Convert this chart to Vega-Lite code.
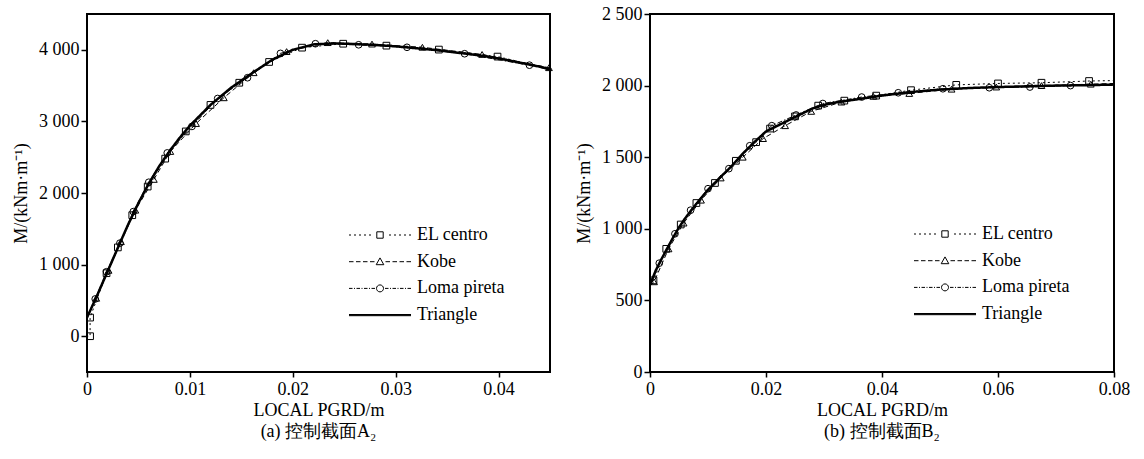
{
  "$schema": "https://vega.github.io/schema/vega-lite/v6.json",
  "padding": {"left": 11, "top": 4, "right": 5, "bottom": 2},
  "background": "white",
  "spacing": 18,
  "resolve": {"scale": {"shape": "independent"}, "legend": {"shape": "independent"}},
  "config": {
    "font": "Liberation Serif",
    "view": {"stroke": "black", "strokeWidth": 2},
    "axis": {"grid": false, "domain": false, "tickColor": "black", "tickWidth": 1.5, "labelColor": "black", "titleColor": "black", "labelFontSize": 18, "titleFontSize": 18, "titleFontWeight": "normal", "labelFont": "Liberation Serif", "titleFont": "Liberation Serif", "labelFlush": false, "labelOverlap": false},
    "axisX": {"tickSize": 5, "labelPadding": 3, "titlePadding": 3},
    "axisY": {"tickSize": 6, "labelPadding": 2, "titlePadding": 8},
    "legend": {"labelFontSize": 18, "labelFont": "Liberation Serif", "labelColor": "black", "symbolStrokeWidth": 1, "symbolStrokeColor": "black", "symbolFillColor": "transparent", "symbolSize": 64, "labelOffset": 28, "rowPadding": 8.7},
    "title": {"font": "Liberation Serif", "fontSize": 18, "fontWeight": "normal", "color": "black", "offset": 4}
  },
  "datasets": {
    "a": [
      {"series": "Triangle", "x": 0, "y": 260},
      {"series": "Triangle", "x": 0.001, "y": 575},
      {"series": "Triangle", "x": 0.002, "y": 905},
      {"series": "Triangle", "x": 0.003, "y": 1235},
      {"series": "Triangle", "x": 0.004, "y": 1560},
      {"series": "Triangle", "x": 0.005, "y": 1860},
      {"series": "Triangle", "x": 0.006, "y": 2130},
      {"series": "Triangle", "x": 0.007, "y": 2370},
      {"series": "Triangle", "x": 0.008, "y": 2580},
      {"series": "Triangle", "x": 0.009, "y": 2770},
      {"series": "Triangle", "x": 0.010, "y": 2940},
      {"series": "Triangle", "x": 0.012, "y": 3230},
      {"series": "Triangle", "x": 0.014, "y": 3470},
      {"series": "Triangle", "x": 0.016, "y": 3670},
      {"series": "Triangle", "x": 0.018, "y": 3860},
      {"series": "Triangle", "x": 0.020, "y": 4000},
      {"series": "Triangle", "x": 0.022, "y": 4075},
      {"series": "Triangle", "x": 0.024, "y": 4090},
      {"series": "Triangle", "x": 0.026, "y": 4080},
      {"series": "Triangle", "x": 0.028, "y": 4068},
      {"series": "Triangle", "x": 0.030, "y": 4048},
      {"series": "Triangle", "x": 0.032, "y": 4022},
      {"series": "Triangle", "x": 0.034, "y": 3995},
      {"series": "Triangle", "x": 0.036, "y": 3960},
      {"series": "Triangle", "x": 0.038, "y": 3925},
      {"series": "Triangle", "x": 0.040, "y": 3880},
      {"series": "Triangle", "x": 0.042, "y": 3822},
      {"series": "Triangle", "x": 0.044, "y": 3765},
      {"series": "Triangle", "x": 0.045, "y": 3728},
      {"series": "EL centro", "x": 0, "y": -500},
      {"series": "EL centro", "x": 0, "y": 0},
      {"series": "EL centro", "x": 0.0003, "y": 0},
      {"series": "EL centro", "x": 0.0003, "y": 260},
      {"series": "EL centro", "x": 0.0019, "y": 880},
      {"series": "EL centro", "x": 0.0030, "y": 1240},
      {"series": "EL centro", "x": 0.0044, "y": 1690},
      {"series": "EL centro", "x": 0.0059, "y": 2090},
      {"series": "EL centro", "x": 0.0076, "y": 2480},
      {"series": "EL centro", "x": 0.0096, "y": 2860},
      {"series": "EL centro", "x": 0.0120, "y": 3230},
      {"series": "EL centro", "x": 0.0148, "y": 3540},
      {"series": "EL centro", "x": 0.0177, "y": 3830},
      {"series": "EL centro", "x": 0.0209, "y": 4030},
      {"series": "EL centro", "x": 0.0249, "y": 4085},
      {"series": "EL centro", "x": 0.0291, "y": 4058},
      {"series": "EL centro", "x": 0.0342, "y": 4003},
      {"series": "EL centro", "x": 0.0399, "y": 3905},
      {"series": "EL centro", "x": 0.045, "y": 3735},
      {"series": "Kobe", "x": 0, "y": -500},
      {"series": "Kobe", "x": 0, "y": 260},
      {"series": "Kobe", "x": 0.0009, "y": 530},
      {"series": "Kobe", "x": 0.0021, "y": 920},
      {"series": "Kobe", "x": 0.0033, "y": 1320},
      {"series": "Kobe", "x": 0.0047, "y": 1760},
      {"series": "Kobe", "x": 0.0065, "y": 2190},
      {"series": "Kobe", "x": 0.0081, "y": 2580},
      {"series": "Kobe", "x": 0.0106, "y": 2970},
      {"series": "Kobe", "x": 0.0133, "y": 3330},
      {"series": "Kobe", "x": 0.0162, "y": 3680},
      {"series": "Kobe", "x": 0.0194, "y": 3975},
      {"series": "Kobe", "x": 0.0234, "y": 4100},
      {"series": "Kobe", "x": 0.0277, "y": 4080},
      {"series": "Kobe", "x": 0.0326, "y": 4035},
      {"series": "Kobe", "x": 0.0384, "y": 3935},
      {"series": "Kobe", "x": 0.0449, "y": 3750},
      {"series": "Loma pireta", "x": 0, "y": -500},
      {"series": "Loma pireta", "x": 0, "y": 260},
      {"series": "Loma pireta", "x": 0.0008, "y": 520},
      {"series": "Loma pireta", "x": 0.0019, "y": 900},
      {"series": "Loma pireta", "x": 0.0032, "y": 1300},
      {"series": "Loma pireta", "x": 0.0045, "y": 1740},
      {"series": "Loma pireta", "x": 0.0060, "y": 2150},
      {"series": "Loma pireta", "x": 0.0078, "y": 2560},
      {"series": "Loma pireta", "x": 0.0102, "y": 2930},
      {"series": "Loma pireta", "x": 0.0127, "y": 3320},
      {"series": "Loma pireta", "x": 0.0156, "y": 3610},
      {"series": "Loma pireta", "x": 0.0188, "y": 3950},
      {"series": "Loma pireta", "x": 0.0222, "y": 4085},
      {"series": "Loma pireta", "x": 0.0264, "y": 4070},
      {"series": "Loma pireta", "x": 0.0311, "y": 4035},
      {"series": "Loma pireta", "x": 0.0367, "y": 3945},
      {"series": "Loma pireta", "x": 0.0430, "y": 3785},
      {"series": "Loma pireta", "x": 0.045, "y": 3725}
    ],
    "b": [
      {"series": "Triangle", "x": 0, "y": 610},
      {"series": "Triangle", "x": 0.001, "y": 710},
      {"series": "Triangle", "x": 0.002, "y": 790},
      {"series": "Triangle", "x": 0.003, "y": 865},
      {"series": "Triangle", "x": 0.004, "y": 940},
      {"series": "Triangle", "x": 0.005, "y": 1010},
      {"series": "Triangle", "x": 0.006, "y": 1070},
      {"series": "Triangle", "x": 0.008, "y": 1175},
      {"series": "Triangle", "x": 0.010, "y": 1272},
      {"series": "Triangle", "x": 0.012, "y": 1355},
      {"series": "Triangle", "x": 0.014, "y": 1435},
      {"series": "Triangle", "x": 0.016, "y": 1525},
      {"series": "Triangle", "x": 0.018, "y": 1605},
      {"series": "Triangle", "x": 0.020, "y": 1680},
      {"series": "Triangle", "x": 0.022, "y": 1720},
      {"series": "Triangle", "x": 0.024, "y": 1760},
      {"series": "Triangle", "x": 0.026, "y": 1800},
      {"series": "Triangle", "x": 0.028, "y": 1840},
      {"series": "Triangle", "x": 0.030, "y": 1865},
      {"series": "Triangle", "x": 0.032, "y": 1882},
      {"series": "Triangle", "x": 0.035, "y": 1900},
      {"series": "Triangle", "x": 0.040, "y": 1930},
      {"series": "Triangle", "x": 0.045, "y": 1955},
      {"series": "Triangle", "x": 0.050, "y": 1972},
      {"series": "Triangle", "x": 0.055, "y": 1983},
      {"series": "Triangle", "x": 0.060, "y": 1990},
      {"series": "Triangle", "x": 0.065, "y": 1995},
      {"series": "Triangle", "x": 0.070, "y": 2000},
      {"series": "Triangle", "x": 0.075, "y": 2003},
      {"series": "Triangle", "x": 0.080, "y": 2007},
      {"series": "EL centro", "x": 0, "y": 600},
      {"series": "EL centro", "x": 0.0006, "y": 640},
      {"series": "EL centro", "x": 0.0028, "y": 860},
      {"series": "EL centro", "x": 0.0053, "y": 1030},
      {"series": "EL centro", "x": 0.0080, "y": 1180},
      {"series": "EL centro", "x": 0.0112, "y": 1320},
      {"series": "EL centro", "x": 0.0148, "y": 1475},
      {"series": "EL centro", "x": 0.0183, "y": 1605},
      {"series": "EL centro", "x": 0.0207, "y": 1700},
      {"series": "EL centro", "x": 0.0250, "y": 1785},
      {"series": "EL centro", "x": 0.0290, "y": 1860},
      {"series": "EL centro", "x": 0.0335, "y": 1895},
      {"series": "EL centro", "x": 0.0390, "y": 1930},
      {"series": "EL centro", "x": 0.0450, "y": 1968},
      {"series": "EL centro", "x": 0.0528, "y": 2005},
      {"series": "EL centro", "x": 0.0600, "y": 2015},
      {"series": "EL centro", "x": 0.0675, "y": 2020},
      {"series": "EL centro", "x": 0.0757, "y": 2032},
      {"series": "EL centro", "x": 0.080, "y": 2035},
      {"series": "Kobe", "x": 0, "y": 600},
      {"series": "Kobe", "x": 0.0007, "y": 630},
      {"series": "Kobe", "x": 0.0032, "y": 860},
      {"series": "Kobe", "x": 0.0058, "y": 1040},
      {"series": "Kobe", "x": 0.0088, "y": 1200},
      {"series": "Kobe", "x": 0.0122, "y": 1355},
      {"series": "Kobe", "x": 0.0160, "y": 1500},
      {"series": "Kobe", "x": 0.0195, "y": 1630},
      {"series": "Kobe", "x": 0.0233, "y": 1720},
      {"series": "Kobe", "x": 0.0278, "y": 1820},
      {"series": "Kobe", "x": 0.0330, "y": 1885},
      {"series": "Kobe", "x": 0.0385, "y": 1925},
      {"series": "Kobe", "x": 0.0447, "y": 1945},
      {"series": "Kobe", "x": 0.0520, "y": 1975},
      {"series": "Kobe", "x": 0.0597, "y": 1990},
      {"series": "Kobe", "x": 0.0675, "y": 2000},
      {"series": "Kobe", "x": 0.0760, "y": 2010},
      {"series": "Kobe", "x": 0.080, "y": 2015},
      {"series": "Loma pireta", "x": 0, "y": 600},
      {"series": "Loma pireta", "x": 0.0016, "y": 760},
      {"series": "Loma pireta", "x": 0.0043, "y": 965},
      {"series": "Loma pireta", "x": 0.0070, "y": 1130},
      {"series": "Loma pireta", "x": 0.0100, "y": 1280},
      {"series": "Loma pireta", "x": 0.0136, "y": 1420},
      {"series": "Loma pireta", "x": 0.0172, "y": 1580},
      {"series": "Loma pireta", "x": 0.0210, "y": 1720},
      {"series": "Loma pireta", "x": 0.0252, "y": 1795},
      {"series": "Loma pireta", "x": 0.0298, "y": 1875},
      {"series": "Loma pireta", "x": 0.0365, "y": 1920},
      {"series": "Loma pireta", "x": 0.0428, "y": 1950},
      {"series": "Loma pireta", "x": 0.0505, "y": 1978},
      {"series": "Loma pireta", "x": 0.0585, "y": 1985},
      {"series": "Loma pireta", "x": 0.0655, "y": 1990},
      {"series": "Loma pireta", "x": 0.0725, "y": 2000},
      {"series": "Loma pireta", "x": 0.080, "y": 2005}
    ]
  },
  "hconcat": [
    {
      "width": 463,
      "height": 358,
      "data": {"name": "a"},
      "title": {"text": "(a) 控制截面A₂", "orient": "bottom"},
      "resolve": {"scale": {"shape": "independent"}, "legend": {"shape": "independent"}},
      "layer": [
        {
          "mark": {"type": "line", "color": "black", "clip": true, "interpolate": "linear"},
          "encoding": {
            "x": {"field": "x", "type": "quantitative", "scale": {"domain": [0, 0.045], "nice": false, "zero": false}, "axis": {"title": "LOCAL PGRD/m", "values": [0, 0.01, 0.02, 0.03, 0.04], "labelExpr": "datum.value == 0 ? '0' : format(datum.value, '.2f')"}},
            "y": {"field": "y", "type": "quantitative", "scale": {"domain": [-500, 4500], "nice": false, "zero": false}, "axis": {"title": "M/(kNm·m⁻¹)", "values": [0, 1000, 2000, 3000, 4000], "labelExpr": "replace(format(datum.value, ','), ',', ' ')"}},
            "detail": {"field": "series", "type": "nominal"},
            "strokeDash": {"condition": [{"test": "datum.series === 'EL centro'", "value": [2, 3]}, {"test": "datum.series === 'Kobe'", "value": [5, 3]}, {"test": "datum.series === 'Loma pireta'", "value": [5, 2, 1.5, 2]}], "value": [1, 0]},
            "strokeWidth": {"condition": {"test": "datum.series === 'Triangle'", "value": 2.5}, "value": 1}
          }
        },
        {
          "mark": {"type": "point", "filled": false, "color": "black", "strokeWidth": 1, "size": 45, "opacity": 1},
          "transform": [{"filter": "datum.series !== 'Triangle' && datum.x > 0 && datum.x < 0.045"}],
          "encoding": {
            "x": {"field": "x", "type": "quantitative"},
            "y": {"field": "y", "type": "quantitative"},
            "shape": {"field": "series", "type": "nominal", "scale": {"domain": ["EL centro", "Kobe", "Loma pireta"], "range": ["square", "triangle-up", "circle"]}, "legend": null}
          }
        },
        {
          "mark": {"type": "point", "filled": false, "color": "black", "strokeWidth": 1, "opacity": 0, "clip": true},
          "transform": [{"filter": "datum.x > 0.008 && datum.x < 0.03"}],
          "encoding": {
            "x": {"field": "x", "type": "quantitative"},
            "y": {"field": "y", "type": "quantitative"},
            "shape": {
              "field": "series", "type": "nominal",
              "scale": {"domain": ["EL centro", "Kobe", "Loma pireta", "Triangle"], "range": [
                "M-7.75,0h0.5M-6.5,0h0.5M-5.25,0h0.5M-4,0h0.5M-2.75,0h0.5M-0.8,-0.8h1.6v1.6h-1.6ZM2.25,0h0.5M3.5,0h0.5M4.75,0h0.5M6,0h0.5M7.25,0h0.5",
                "M-7.75,0h1.125M-6,0h1.125M-4.25,0h1.125M-2.5,0h1.125M0,-0.95L0.95,0.75L-0.95,0.75ZM1.375,0h1.125M3.125,0h1.125M4.875,0h1.125M6.625,0h1.125",
                "M-7.75,0h0.875M-6.5,0h0.25M-5.875,0h0.875M-4.625,0h0.25M-4,0h0.875M-2.75,0h0.25M-2.125,0h0.875M0.875,0A0.875,0.875,0,1,1,-0.875,0A0.875,0.875,0,1,1,0.875,0ZM1.25,0h0.875M2.5,0h0.25M3.125,0h0.875M4.375,0h0.25M5,0h0.875M6.25,0h0.25M6.875,0h0.875",
                "M-7.75,-0.15H7.75M-7.75,0H7.75M-7.75,0.15H7.75"
              ]},
              "legend": {"orient": "none", "legendX": 284, "legendY": 212, "title": null}
            }
          }
        }
      ]
    },
    {
      "width": 464,
      "height": 358,
      "data": {"name": "b"},
      "title": {"text": "(b) 控制截面B₂", "orient": "bottom"},
      "resolve": {"scale": {"shape": "independent"}, "legend": {"shape": "independent"}},
      "layer": [
        {
          "mark": {"type": "line", "color": "black", "clip": true, "interpolate": "linear"},
          "encoding": {
            "x": {"field": "x", "type": "quantitative", "scale": {"domain": [0, 0.08], "nice": false, "zero": false}, "axis": {"title": "LOCAL PGRD/m", "values": [0, 0.02, 0.04, 0.06, 0.08], "labelExpr": "datum.value == 0 ? '0' : format(datum.value, '.2f')"}},
            "y": {"field": "y", "type": "quantitative", "scale": {"domain": [0, 2500], "nice": false, "zero": false}, "axis": {"title": "M/(kNm·m⁻¹)", "values": [0, 500, 1000, 1500, 2000, 2500], "labelExpr": "replace(format(datum.value, ','), ',', ' ')"}},
            "detail": {"field": "series", "type": "nominal"},
            "strokeDash": {"condition": [{"test": "datum.series === 'EL centro'", "value": [2, 3]}, {"test": "datum.series === 'Kobe'", "value": [5, 3]}, {"test": "datum.series === 'Loma pireta'", "value": [5, 2, 1.5, 2]}], "value": [1, 0]},
            "strokeWidth": {"condition": {"test": "datum.series === 'Triangle'", "value": 2.5}, "value": 1}
          }
        },
        {
          "mark": {"type": "point", "filled": false, "color": "black", "strokeWidth": 1, "size": 45, "opacity": 1},
          "transform": [{"filter": "datum.series !== 'Triangle' && datum.x > 0 && datum.x < 0.08"}],
          "encoding": {
            "x": {"field": "x", "type": "quantitative"},
            "y": {"field": "y", "type": "quantitative"},
            "shape": {"field": "series", "type": "nominal", "scale": {"domain": ["EL centro", "Kobe", "Loma pireta"], "range": ["square", "triangle-up", "circle"]}, "legend": null}
          }
        },
        {
          "mark": {"type": "point", "filled": false, "color": "black", "strokeWidth": 1, "opacity": 0, "clip": true},
          "transform": [{"filter": "datum.x > 0.01 && datum.x < 0.06"}],
          "encoding": {
            "x": {"field": "x", "type": "quantitative"},
            "y": {"field": "y", "type": "quantitative"},
            "shape": {
              "field": "series", "type": "nominal",
              "scale": {"domain": ["EL centro", "Kobe", "Loma pireta", "Triangle"], "range": [
                "M-7.75,0h0.5M-6.5,0h0.5M-5.25,0h0.5M-4,0h0.5M-2.75,0h0.5M-0.8,-0.8h1.6v1.6h-1.6ZM2.25,0h0.5M3.5,0h0.5M4.75,0h0.5M6,0h0.5M7.25,0h0.5",
                "M-7.75,0h1.125M-6,0h1.125M-4.25,0h1.125M-2.5,0h1.125M0,-0.95L0.95,0.75L-0.95,0.75ZM1.375,0h1.125M3.125,0h1.125M4.875,0h1.125M6.625,0h1.125",
                "M-7.75,0h0.875M-6.5,0h0.25M-5.875,0h0.875M-4.625,0h0.25M-4,0h0.875M-2.75,0h0.25M-2.125,0h0.875M0.875,0A0.875,0.875,0,1,1,-0.875,0A0.875,0.875,0,1,1,0.875,0ZM1.25,0h0.875M2.5,0h0.25M3.125,0h0.875M4.375,0h0.25M5,0h0.875M6.25,0h0.25M6.875,0h0.875",
                "M-7.75,-0.15H7.75M-7.75,0H7.75M-7.75,0.15H7.75"
              ]},
              "legend": {"orient": "none", "legendX": 286, "legendY": 211, "title": null}
            }
          }
        }
      ]
    }
  ]
}
